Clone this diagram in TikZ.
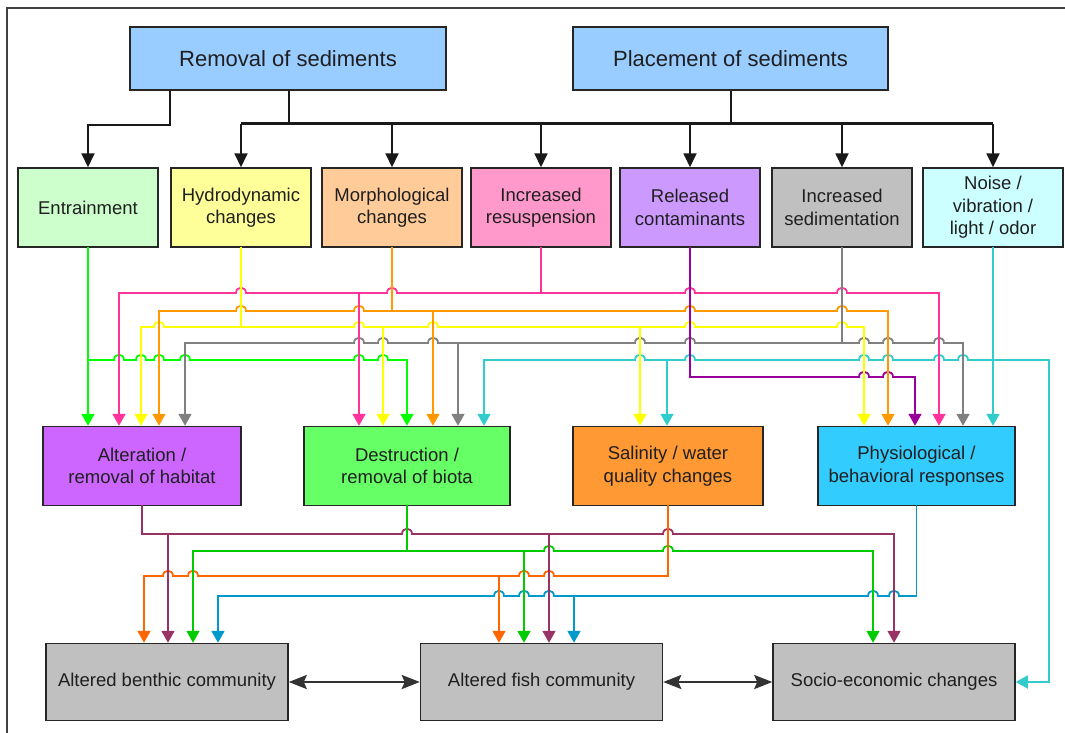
\documentclass[tikz,border=0pt]{standalone}
\usepackage{fontspec}
\setmainfont{Liberation Sans}
\usetikzlibrary{arrows.meta}
\definecolor{fBlue}{HTML}{99CCFF}
\definecolor{fEnt}{HTML}{CCFFCC}
\definecolor{fHyd}{HTML}{FFFF99}
\definecolor{fMor}{HTML}{FFCC99}
\definecolor{fRes}{HTML}{FF99CC}
\definecolor{fRel}{HTML}{CC99FF}
\definecolor{fSed}{HTML}{C0C0C0}
\definecolor{fNoi}{HTML}{CCFFFF}
\definecolor{fAlt}{HTML}{CC66FF}
\definecolor{fDes}{HTML}{66FF66}
\definecolor{fSal}{HTML}{FF9933}
\definecolor{fPhy}{HTML}{33CCFF}
\definecolor{cGn}{HTML}{00FF00}
\definecolor{cPk}{HTML}{FF3399}
\definecolor{cOr}{HTML}{FF9900}
\definecolor{cYe}{HTML}{FFFF00}
\definecolor{cGy}{HTML}{808080}
\definecolor{cCy}{HTML}{33CCCC}
\definecolor{cPu}{HTML}{990099}
\definecolor{cMr}{HTML}{993366}
\definecolor{cGd}{HTML}{00CC00}
\definecolor{cOd}{HTML}{FF6600}
\definecolor{cBl}{HTML}{0099CC}
\newcommand\hopln[5]{%
  \draw[#1] (#3,#2) \foreach \hx in {#5}{ -- (\hx-5,#2) .. controls (\hx-5,#2-7) and (\hx+5,#2-7) .. (\hx+5,#2)} -- (#4,#2);}
\tikzset{
  box/.style={draw=black!85, line width=1.5pt, align=center, text=black!88,
    font=\fontsize{18.5}{22.5}\selectfont, inner sep=0pt},
  topbox/.style={box, fill=fBlue, minimum width=#1, minimum height=63pt,
    font=\fontsize{22}{26}\selectfont},
  rowtwo/.style={box, fill=#1, minimum width=140pt, minimum height=79pt},
  rowthree/.style={box, fill=#1, minimum height=79pt},
  rowfour/.style={box, fill=fSed, minimum width=242pt, minimum height=77pt},
  blk/.style={draw=black!90, line width=2pt},
  btip/.style={-{Triangle[width=13pt,length=14pt]}},
  ctip/.style={-{Triangle[width=13pt,length=12pt]}},
  cl/.style={line width=1.8pt, line cap=rect, line join=miter, draw=#1, color=#1},
  dbl/.style={draw=black!80, line width=2.6pt,
    {Stealth[length=18pt,width=14pt,inset=3pt]}-{Stealth[length=18pt,width=14pt,inset=3pt]}},
}
\begin{document}
\begin{tikzpicture}[x=1pt,y=-1pt]
\useasboundingbox (0,0) rectangle (1065,733);
\fill[white] (0,0) rectangle (1065,733);
\draw[black!75, line width=1.2pt] (7,733) -- (7,8) -- (1065,8);

% ---------- nodes ----------
\node[topbox=316pt] (rem) at (288,58.5) {Removal of sediments};
\node[topbox=315pt] (pla) at (730.5,58.5) {Placement of sediments};

\node[rowtwo=fEnt] (ent) at (88,207.5) {Entrainment};
\node[rowtwo=fHyd] (hyd) at (241,207.5) {Hydrodynamic\\changes};
\node[rowtwo=fMor] (mor) at (392,207.5) {Morphological\\changes};
\node[rowtwo=fRes] (res) at (541,207.5) {Increased\\resuspension};
\node[rowtwo=fRel] (rel) at (690,207.5) {Released\\contaminants};
\node[rowtwo=fSed] (sed) at (842,207.5) {Increased\\sedimentation};
\node[rowtwo=fNoi] (noi) at (993,207.5) {Noise /\\vibration /\\light / odor};

\node[rowthree=fAlt, minimum width=198pt] (alt) at (142,466) {Alteration /\\removal of habitat};
\node[rowthree=fDes, minimum width=206pt] (des) at (407,466) {Destruction /\\removal of biota};
\node[rowthree=fSal, minimum width=190pt] (sal) at (668,466) {Salinity / water\\quality changes};
\node[rowthree=fPhy, minimum width=197pt] (phy) at (916.5,466) {Physiological /\\behavioral responses};

\node[rowfour] (ben) at (167,682) {Altered benthic community};
\node[rowfour] (fish) at (541.5,682) {Altered fish community};
\node[rowfour] (soc) at (894,682) {Socio-economic changes};

% ---------- top connectors ----------
\draw[blk,btip] ([xshift=-118pt]rem.south) |- (ent.north |- 0,125) -- (ent.north);
\draw[blk] ([xshift=1pt]rem.south) -- ([xshift=1pt]rem.south |- 0,124);
\draw[blk] (pla.south) -- (pla.south |- 0,124);
\draw[blk, line width=3pt] (hyd.north |- 0,124) -- (noi.north |- 0,124);
\foreach \n in {hyd,mor,res,rel,sed,noi}
  \draw[blk,btip] (\n.north |- 0,124) -- (\n.north);

% ---------- upper colored connectors: horizontals ----------
\hopln{cl=cPk}{293}{119}{939}{241,392,690,842}
\hopln{cl=cOr}{311}{159}{888}{241,359,690,842}
\hopln{cl=cYe}{327}{141}{864}{159,359,433,690,842}
\hopln{cl=cGy}{343}{185}{963}{359,383,433,640,690,864,888,939}
\hopln{cl=cGn}{360}{88}{407}{119,141,159,185,359,383}
\hopln{cl=cCy}{360}{484}{1049}{640,690,864,888,939,963}
\hopln{cl=cPu}{377}{690}{915}{864,888}

% sources
\draw[cl=cPk] (res.south) -- (res.south |- 0,293);
\draw[cl=cOr] (mor.south) -- (mor.south |- 0,311);
\draw[cl=cYe] (hyd.south) -- (hyd.south |- 0,327);
\draw[cl=cGy] (sed.south) -- (sed.south |- 0,343);
\draw[cl=cPu] (rel.south) -- (rel.south |- 0,377);
\draw[cl=cGn,ctip] (ent.south) -- (ent.south |- alt.north);
\draw[cl=cCy,ctip] (noi.south) -- (noi.south |- phy.north);

% drops to row three
\foreach \x in {119,359,939} \draw[cl=cPk,ctip] (\x,293) -- (\x,293 |- alt.north);
\foreach \x in {159,433,888} \draw[cl=cOr,ctip] (\x,311) -- (\x,311 |- alt.north);
\foreach \x in {141,383,640,864} \draw[cl=cYe,ctip] (\x,327) -- (\x,327 |- alt.north);
\foreach \x in {185,458,963} \draw[cl=cGy,ctip] (\x,343) -- (\x,343 |- alt.north);
\draw[cl=cGn,ctip] (407,360) -- (des.north);
\foreach \x in {484,667} \draw[cl=cCy,ctip] (\x,360) -- (\x,360 |- alt.north);
\draw[cl=cPu,ctip] (915,377) -- (915,377 |- phy.north);
\draw[cl=cCy,ctip] (1049,360) |- (soc.east);

% ---------- lower colored connectors ----------
\hopln{cl=cMr}{534}{142}{894}{407,668}
\hopln{cl=cGd}{551}{193}{873}{549,668}
\hopln{cl=cOd}{576}{144}{668}{168,193,524,549}
\hopln{cl=cBl}{596}{218}{916}{499,524,549,873,894}

\draw[cl=cMr] (alt.south) -- (alt.south |- 0,534);
\draw[cl=cGd] (des.south) -- (des.south |- 0,551);
\draw[cl=cOd] (sal.south) -- (sal.south |- 0,576);
\draw[cl=cBl] (phy.south) -- (phy.south |- 0,596);

\foreach \x in {168,549,894} \draw[cl=cMr,ctip] (\x,534) -- (\x,534 |- ben.north);
\foreach \x in {193,524,873} \draw[cl=cGd,ctip] (\x,551) -- (\x,551 |- ben.north);
\foreach \x in {144,499} \draw[cl=cOd,ctip] (\x,576) -- (\x,576 |- ben.north);
\foreach \x in {218,574} \draw[cl=cBl,ctip] (\x,596) -- (\x,596 |- ben.north);

% ---------- bottom double arrows ----------
\draw[dbl] (ben.east) -- (fish.west);
\draw[dbl] (fish.east) -- (soc.west);
\end{tikzpicture}
\end{document}
